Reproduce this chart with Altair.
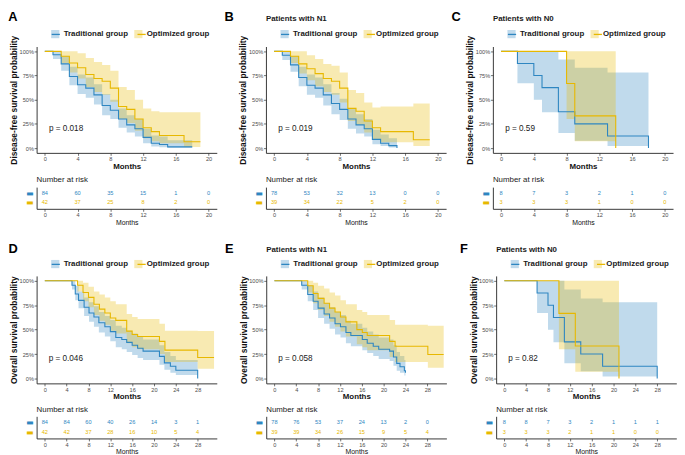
import altair as alt
import pandas as pd

GROUPS = ["Traditional group", "Optimized group"]
GROUP_CODES = ["T", "O"]
BLUE = "#2E86C1"
YELLOW = "#E7B800"
FONT = "Liberation Sans"

LETTERS = ["A", "B", "C", "D", "E", "F"]
SUBTITLES = ["\u00a0", "Patients with N1", "Patients with N0",
             "\u00a0", "Patients with N1", "Patients with N0"]
PVALUES = ["p = 0.018", "p = 0.019", "p = 0.59", "p = 0.046", "p = 0.058", "p = 0.82"]
YTITLES = ["Disease-free survival probability", "Overall survival probability"]

DFS_TICKS = [0, 4, 8, 12, 16, 20]
OS_TICKS = [0, 4, 8, 12, 16, 20, 24, 28]

# ---------------- Panel A (DFS, all patients) ----------------
A_trad_t = [0, 1, 2, 3, 4, 5, 6, 7, 8, 9, 10, 11, 12, 13, 14, 15, 18]
A_trad_s = [1, .964, .87, .74, .655, .62, .55, .44, .39, .30, .24, .20, .11, .05, .036, .012, .012]
A_trad_lo = [1, .92, .80, .65, .56, .52, .45, .34, .30, .21, .16, .12, .05, .015, .008, .002, .002]
A_trad_hi = [1, 1.0, .95, .84, .76, .73, .66, .56, .50, .41, .34, .30, .20, .13, .12, .08, .08]
A_opt_t = [0, 2, 3, 4, 5, 6, 7, 8, 9, 10, 11, 12, 13, 14, 17, 19]
A_opt_s = [1, .95, .88, .83, .76, .72, .69, .62, .43, .40, .30, .21, .17, .13, .065, .065]
A_opt_lo = [1, .88, .78, .72, .63, .58, .55, .48, .30, .26, .18, .10, .07, .05, .01, .01]
A_opt_hi = [1, 1, 1, .98, .93, .89, .86, .80, .63, .60, .50, .41, .38, .37, .37, .37]

# ---------------- Panel B (DFS, N1) ----------------
B_trad_t = [0, 1, 2, 3, 4, 5, 6, 7, 8, 9, 10, 11, 12, 13, 14, 15]
B_trad_s = [1, .96, .86, .73, .65, .62, .55, .46, .40, .30, .24, .20, .09, .05, .025, 0]
B_trad_lo = [1, .91, .79, .64, .55, .52, .44, .35, .29, .20, .15, .12, .04, .02, .005, .005]
B_trad_hi = [1, 1.0, .95, .84, .76, .73, .66, .57, .51, .41, .35, .30, .19, .14, .10, .10]
B_opt_t = [0, 2, 3, 4, 5, 6, 7, 8, 9, 10, 11, 12, 13, 17, 19]
B_opt_s = [1, .95, .87, .82, .77, .72, .69, .62, .41, .38, .28, .21, .17, .085, .085]
B_opt_lo = [1, .88, .77, .70, .64, .58, .55, .47, .28, .24, .16, .09, .06, .02, .02]
B_opt_hi = [1, 1, 1, .96, .92, .87, .85, .78, .60, .57, .47, .42, .43, .46, .46]

# ---------------- Panel C (DFS, N0) ----------------
C_trad_t = [0, 2, 4, 5, 7, 9, 13, 18]
C_trad_s = [1, .875, .75, .625, .375, .25, .125, 0]
C_trad_lo = [1, .67, .50, .37, .155, .075, .02, .02]
C_trad_hi = [1, 1, 1, 1, .915, .83, .78, .78]
C_opt_t = [0, 8, 9, 14]
C_opt_s = [1, .667, .333, 0]
C_opt_lo = [1, .30, .07, .07]
C_opt_hi = [1, 1, 1, 1]

# ---------------- Panel D (OS, all patients) ----------------
D_trad_t = [0, 4.98, 5.58, 6.18, 7.2, 8.1, 9.0, 9.9, 11.0, 12.0, 13.0, 14.1, 15.0, 16.0, 17.0, 18.0, 21.0, 21.9, 23.0, 24.0, 28.0]
D_trad_s = [1, .955, .865, .80, .73, .67, .63, .57, .53, .48, .42, .40, .37, .34, .31, .28, .226, .16, .125, .085, 0]
D_trad_lo = [1, .91, .80, .72, .64, .58, .53, .47, .43, .38, .32, .30, .27, .24, .21, .19, .14, .09, .06, .035, .035]
D_trad_hi = [1, 1, .95, .89, .83, .78, .74, .68, .64, .60, .54, .52, .49, .46, .43, .40, .34, .27, .23, .19, .19]
D_opt_t = [0, 6, 7, 8, 9, 10, 11, 12, 13, 15, 16, 17, 21, 22, 28, 31]
D_opt_s = [1, .955, .88, .83, .76, .71, .67, .62, .595, .485, .45, .43, .38, .29, .215, .215]
D_opt_lo = [1, .89, .79, .73, .65, .59, .55, .49, .46, .36, .32, .30, .25, .17, .10, .10]
D_opt_hi = [1, 1, .98, .94, .89, .86, .83, .79, .76, .66, .63, .61, .56, .49, .485, .485]

# ---------------- Panel E (OS, N1) ----------------
E_trad_t = [0, 5, 6.1, 7.1, 8, 9.1, 10.1, 11.1, 12.1, 13.1, 14, 16.1, 17, 18.1, 19.1, 21.1, 21.8, 22.4, 23, 23.8, 24]
E_trad_s = [1, .955, .86, .79, .72, .66, .62, .56, .53, .47, .44, .40, .36, .33, .30, .28, .22, .155, .12, .08, .06]
E_trad_lo = [1, .91, .79, .70, .62, .56, .51, .45, .42, .36, .33, .29, .26, .23, .20, .18, .13, .08, .06, .03, .03]
E_trad_hi = [1, 1, .95, .89, .83, .77, .73, .68, .65, .59, .56, .52, .48, .45, .42, .40, .34, .27, .23, .19, .19]
E_opt_t = [0, 6.1, 7.1, 8, 9.1, 10.1, 11.1, 12.1, 13.1, 15.1, 16.1, 17, 21.1, 22.1, 28.1, 31]
E_opt_s = [1, .95, .87, .82, .77, .72, .68, .63, .58, .50, .47, .44, .38, .33, .245, .245]
E_opt_lo = [1, .88, .77, .70, .64, .58, .53, .48, .43, .35, .32, .29, .22, .17, .11, .11]
E_opt_hi = [1, 1, .98, .95, .92, .88, .85, .80, .76, .70, .68, .65, .60, .55, .54, .54]

# ---------------- Panel F (OS, N0) ----------------
F_trad_t = [0, 6, 8, 9, 11, 14, 18, 28]
F_trad_s = [1, .875, .75, .625, .375, .25, .125, 0]
F_trad_lo = [1, .67, .50, .37, .155, .075, .02, .02]
F_trad_hi = [1, 1, 1, 1, .91, .82, .78, .78]
F_opt_t = [0, 10, 13, 21]
F_opt_s = [1, .667, .333, 0]
F_opt_lo = [1, .30, .07, .07]
F_opt_hi = [1, 1, 1, 1]

# ---------------- Numbers at risk ----------------
A_risk_trad = [84, 60, 35, 15, 1, 0]
A_risk_opt = [42, 37, 25, 8, 2, 0]
B_risk_trad = [78, 53, 32, 13, 0, 0]
B_risk_opt = [39, 34, 22, 5, 2, 0]
C_risk_trad = [8, 7, 3, 2, 1, 0]
C_risk_opt = [3, 3, 3, 1, 0, 0]
D_risk_trad = [84, 84, 60, 40, 26, 14, 3, 1]
D_risk_opt = [42, 42, 37, 28, 16, 10, 5, 4]
E_risk_trad = [78, 76, 53, 37, 24, 13, 2, 0]
E_risk_opt = [39, 39, 34, 26, 15, 9, 5, 4]
F_risk_trad = [8, 8, 7, 3, 2, 1, 1, 1]
F_risk_opt = [3, 3, 3, 2, 1, 1, 0, 0]

# ---------------- layout constants ----------------
W = 182.6
DFS_DOM = [-1, 21]
OS_DOM = [-1.5, 31.5]

color_scale = alt.Scale(domain=GROUPS, range=[BLUE, YELLOW])
stroke_scale = alt.Scale(domain=GROUP_CODES, range=[BLUE, YELLOW])

LEG_FONT_SIZE = 8
LEG_SYMBOL = 69
LEG_OFFSET = 4
LEG_COLPAD = 5.2
# width of the first legend label ("Traditional group", bold 8px Arial metrics: 8.223 em)
FIRST_LABEL_W = 8.223 * LEG_FONT_SIZE


def axis_x(ticks, title, title_size, title_weight):
    return alt.Axis(values=ticks, title=title, grid=False, labelFlush=False,
                    domainColor="#222222", domainWidth=0.9, tickColor="#333333",
                    tickSize=2.5, tickWidth=0.7, labelFont=FONT, labelFontSize=5.7,
                    labelColor="#4d4d4d", labelPadding=0.5, titleFont=FONT,
                    titleFontSize=title_size, titleFontWeight=title_weight,
                    titleColor="#111111", titlePadding=0.8, labelOverlap=False)


def axis_y(title):
    return alt.Axis(values=[0, 0.25, 0.5, 0.75, 1], format=".0%", title=title,
                    grid=False, labelFlush=False, labelOverlap=False,
                    domainColor="#222222", domainWidth=0.9,
                    tickColor="#333333", tickSize=2.5, tickWidth=0.7, labelFont=FONT,
                    labelFontSize=5.7, labelColor="#4d4d4d", labelPadding=0.7,
                    titleFont=FONT, titleFontSize=8.5, titleFontWeight="bold",
                    titleColor="#111111", titlePadding=0.5)


def km_chart(curves, xdom, ticks, ytitle, subtitle, pval, px, h, legend_y, title_offset):
    frames = []
    for g, code, (t, s, lo, hi) in zip(GROUPS, GROUP_CODES, curves):
        frames.append(pd.DataFrame({"t": t, "s": s, "lo": lo, "hi": hi, "g": g, "gs": code}))
    df = pd.concat(frames, ignore_index=True)

    xscale = alt.Scale(domain=xdom, nice=False, zero=False)
    yscale = alt.Scale(domain=[-0.05, 1.05], nice=False, zero=False)
    xaxis = axis_x(ticks, "Months", 8, "bold")
    yaxis = axis_y(ytitle)

    leg_common = dict(orient="none", legendX=14.4, legendY=legend_y, direction="horizontal",
                      title=None, symbolSize=LEG_SYMBOL, labelFont=FONT,
                      labelFontSize=LEG_FONT_SIZE, labelFontWeight="bold",
                      labelColor="#1a1a1a", labelOffset=LEG_OFFSET, padding=0, labelLimit=300)
    fill_leg = alt.Legend(symbolType="square", symbolOpacity=0.3, symbolStrokeWidth=0,
                          columnPadding=LEG_COLPAD, **leg_common)
    # line symbols only: no label text, the gap is widened to sit on the squares
    stroke_leg = alt.Legend(symbolType="stroke", symbolStrokeWidth=1.3, labelExpr="''",
                            columnPadding=LEG_COLPAD + FIRST_LABEL_W, **leg_common)

    band = alt.Chart(df).mark_area(interpolate="step-after", opacity=0.3).encode(
        x=alt.X("t:Q", scale=xscale, axis=xaxis),
        y=alt.Y("lo:Q", scale=yscale, axis=yaxis, stack=None),
        y2="hi:Q",
        fill=alt.Fill("g:N", scale=color_scale, legend=fill_leg),
    )
    line = alt.Chart(df).mark_line(interpolate="step-after", strokeWidth=1.1).encode(
        x=alt.X("t:Q", scale=xscale, axis=xaxis),
        y=alt.Y("s:Q", scale=yscale, axis=yaxis),
        stroke=alt.Stroke("gs:N", scale=stroke_scale, legend=stroke_leg),
    )
    ptext = alt.Chart(pd.DataFrame({"t": [px], "s": [0.2], "label": [pval]})).mark_text(
        align="left", baseline="middle", fontSize=8.3, font=FONT, color="#1a1a1a"
    ).encode(x=alt.X("t:Q", scale=xscale, axis=xaxis),
             y=alt.Y("s:Q", scale=yscale, axis=yaxis), text="label:N")

    return alt.layer(band, line, ptext).properties(
        width=W, height=h,
        title=alt.TitleParams(text=subtitle, anchor="start", frame="group", fontSize=8,
                              fontWeight="bold", font=FONT, color="#1a1a1a",
                              offset=title_offset),
    )


def risk_chart(times, trad_n, opt_n, xdom, ticks, title_offset, h, pad):
    df = pd.DataFrame({
        "t": list(times) * 2,
        "g": [GROUPS[0]] * len(times) + [GROUPS[1]] * len(times),
        "n": list(trad_n) + list(opt_n),
    })
    return alt.Chart(df).mark_text(fontSize=5.7, font=FONT).encode(
        x=alt.X("t:Q", scale=alt.Scale(domain=xdom, nice=False, zero=False),
                axis=axis_x(ticks, "Months", 7, "normal")),
        y=alt.Y("g:N", scale=alt.Scale(type="point", domain=GROUPS, padding=pad),
                axis=alt.Axis(title=None, labelExpr="'\u25ac'", ticks=False, tickSize=0,
                              domain=True, domainColor="#222222", domainWidth=0.9,
                              labelFont="DejaVu Sans", labelFontSize=8, labelPadding=3.5,
                              labelColor={"condition": {"test": "datum.value == 'Traditional group'",
                                                        "value": BLUE},
                                          "value": YELLOW})),
        text=alt.Text("n:Q"),
        color=alt.Color("g:N", scale=color_scale, legend=None),
    ).properties(
        width=W, height=h,
        title=alt.TitleParams(text="Number at risk", anchor="start", frame="group", fontSize=8,
                              fontWeight="normal", font=FONT, color="#1a1a1a",
                              offset=title_offset),
    )


def independent(c):
    return c.resolve_scale(color="independent", fill="independent",
                           stroke="independent").resolve_legend(
        color="independent", fill="independent", stroke="independent")


def panel(i, curves, risk_t, risk_tr, risk_op, xdom, ticks, ytitle, px, km_h,
          legend_y, km_title_offset, gap, letter_dx, letter_offset, risk_title_offset,
          risk_h, risk_pad):
    km = km_chart(curves, xdom, ticks, ytitle, SUBTITLES[i], PVALUES[i], px, km_h,
                  legend_y, km_title_offset)
    rk = risk_chart(risk_t, risk_tr, risk_op, xdom, ticks, risk_title_offset, risk_h, risk_pad)
    p = alt.vconcat(km, rk, spacing=gap, bounds="flush",
                    title=alt.TitleParams(text=LETTERS[i], anchor="start", frame="group",
                                          fontSize=13, fontWeight="bold", font=FONT,
                                          color="black", dx=letter_dx, offset=letter_offset))
    return independent(p)


curves = {
    0: [(A_trad_t, A_trad_s, A_trad_lo, A_trad_hi), (A_opt_t, A_opt_s, A_opt_lo, A_opt_hi)],
    1: [(B_trad_t, B_trad_s, B_trad_lo, B_trad_hi), (B_opt_t, B_opt_s, B_opt_lo, B_opt_hi)],
    2: [(C_trad_t, C_trad_s, C_trad_lo, C_trad_hi), (C_opt_t, C_opt_s, C_opt_lo, C_opt_hi)],
    3: [(D_trad_t, D_trad_s, D_trad_lo, D_trad_hi), (D_opt_t, D_opt_s, D_opt_lo, D_opt_hi)],
    4: [(E_trad_t, E_trad_s, E_trad_lo, E_trad_hi), (E_opt_t, E_opt_s, E_opt_lo, E_opt_hi)],
    5: [(F_trad_t, F_trad_s, F_trad_lo, F_trad_hi), (F_opt_t, F_opt_s, F_opt_lo, F_opt_hi)],
}
risks = {
    0: (A_risk_trad, A_risk_opt), 1: (B_risk_trad, B_risk_opt), 2: (C_risk_trad, C_risk_opt),
    3: (D_risk_trad, D_risk_opt), 4: (E_risk_trad, E_risk_opt), 5: (F_risk_trad, F_risk_opt),
}

row1_dx = [-28.7, -42, -42]
row2_dx = [-28.6, -41.7, -36.7]

row1_panels = [panel(i, curves[i], DFS_TICKS, risks[i][0], risks[i][1], DFS_DOM, DFS_TICKS,
                     YTITLES[0], 0.5, 107.8, -17.25, 6.45, 34.5, row1_dx[i], -9.1, 3.6,
                     22, 0.72)
               for i in range(3)]
row2_panels = [panel(i, curves[i], OS_TICKS, risks[i][0], risks[i][1], OS_DOM, OS_TICKS,
                     YTITLES[1], 0.7, 108.9, -16.7, 5.95, 33.3, row2_dx[i - 3], -10.6, 2.8,
                     22.4, 0.58)
               for i in range(3, 6)]

row1 = independent(alt.hconcat(
    independent(alt.hconcat(row1_panels[0], row1_panels[1], spacing=7.4)),
    row1_panels[2], spacing=5.4))
row2 = independent(alt.hconcat(
    independent(alt.hconcat(row2_panels[0], row2_panels[1], spacing=7.7)),
    row2_panels[2], spacing=12.7))

chart = independent(alt.vconcat(row1, row2, spacing=17.5)).properties(
    padding=0, background="white"
).configure_view(stroke=None)

chart.save("out.html", embed_options={"renderer": "svg", "actions": False})
